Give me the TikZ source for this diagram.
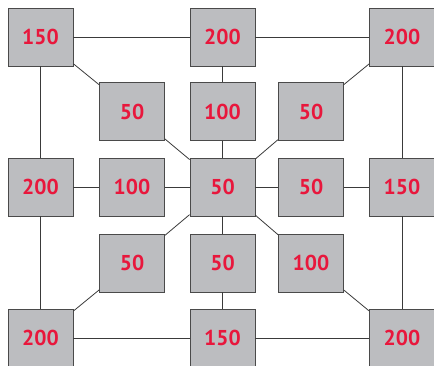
\documentclass[tikz,border=0pt]{standalone}
\usepackage{fontspec}
\setmainfont{PT Sans}
\definecolor{boxgray}{HTML}{BCBDC0}
\definecolor{boxedge}{HTML}{4A4A4A}
\definecolor{numred}{HTML}{E8173C}
\definecolor{linegray}{HTML}{3A3A3A}
\begin{document}
\begin{tikzpicture}[x=1pt,y=-1pt,
  cell/.style={draw=boxedge,line width=0.9pt,fill=boxgray,minimum width=65pt,minimum height=58pt,inner sep=0pt,
    font=\fontsize{21.5}{23}\selectfont\bfseries,text=numred},
  link/.style={draw=linegray,line width=0.8pt}]
\useasboundingbox (0,0) rectangle (434,366);
\clip (0,0) rectangle (434,366);
% outer
\node[cell] (a1) at (40.5,37) {150};
\node[cell] (a2) at (222.5,37) {200};
\node[cell] (a3) at (402,37) {200};
\node[cell] (b1) at (40.5,187) {200};
\node[cell] (b3) at (402,187) {150};
\node[cell] (c1) at (40.5,338) {200};
\node[cell] (c2) at (222.5,338) {150};
\node[cell] (c3) at (402,338) {200};
% inner
\node[cell] (i11) at (132,111.5) {50};
\node[cell] (i12) at (222.5,111.5) {100};
\node[cell] (i13) at (311,111.5) {50};
\node[cell] (i21) at (132,187) {100};
\node[cell] (m) at (222.5,187) {50};
\node[cell] (i23) at (311,187) {50};
\node[cell] (i31) at (132,263) {50};
\node[cell] (i32) at (222.5,263) {50};
\node[cell] (i33) at (311,263) {100};
% outer ring
\path[link] (a1) -- (a2);
\path[link] (a2) -- (a3);
\path[link] (a1) -- (b1);
\path[link] (b1) -- (c1);
\path[link] (a3) -- (b3);
\path[link] (b3) -- (c3);
\path[link] (c1) -- (c2);
\path[link] (c2) -- (c3);
% spokes
\path[link] (a1) -- (i11);
\path[link] (i11) -- (m);
\path[link] (a2) -- (i12);
\path[link] (i12) -- (m);
\path[link] (a3) -- (i13);
\path[link] (i13) -- (m);
\path[link] (b1) -- (i21);
\path[link] (i21) -- (m);
\path[link] (b3) -- (i23);
\path[link] (i23) -- (m);
\path[link] (c1) -- (i31);
\path[link] (i31) -- (m);
\path[link] (c2) -- (i32);
\path[link] (i32) -- (m);
\path[link] (c3) -- (i33);
\path[link] (i33) -- (m);
\end{tikzpicture}
\end{document}
